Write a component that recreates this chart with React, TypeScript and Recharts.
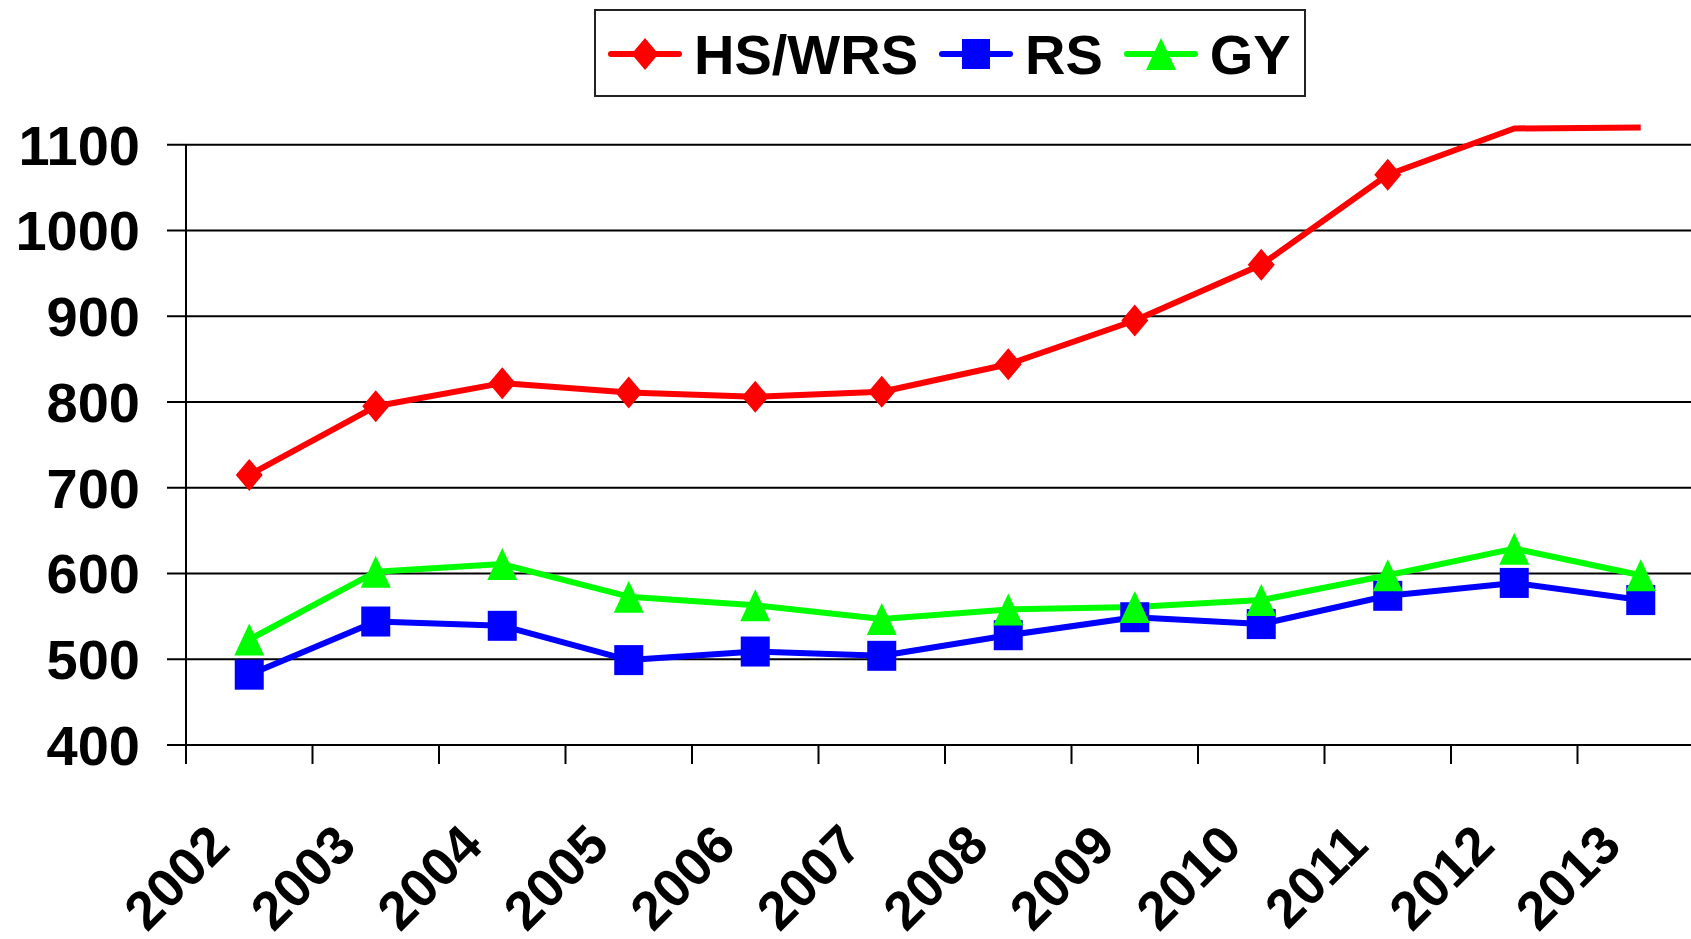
import React from 'react';
import { LineChart, Line, XAxis, YAxis, CartesianGrid, Legend, ReferenceLine } from 'recharts';

const FONT = '"Liberation Sans", Arial, Helvetica, sans-serif';

const years = ['2002', '2003', '2004', '2005', '2006', '2007', '2008', '2009', '2010', '2011', '2012', '2013'];
const hsWrs = [715, 795, 822, 811, 806, 812, 844, 895, 960, 1065, 1119, 1120];
const rs = [482, 544, 539, 499, 509, 504, 528, 549, 541, 574, 589, 569];
const gy = [523, 602, 611, 573, 563, 547, 558, 561, 569, 598, 629, 598];
const yTicks = [400, 500, 600, 700, 800, 900, 1000, 1100];
const xBoundaries = [0, 1, 2, 3, 4, 5, 6, 7, 8, 9, 10, 11, 12];
const seriesOrder = ['hs', 'rs', 'gy'];

const data = years.map((year, i) => ({
  year,
  x: i + 0.5,
  hs: hsWrs[i],
  rs: rs[i],
  gy: gy[i],
}));

const RED = '#ff0000';
const BLUE = '#0000ff';
const GREEN = '#00ff00';

const diamondPath = (cx: number, cy: number) =>
  `M${cx},${cy - 16} L${cx + 13.5},${cy} L${cx},${cy + 16} L${cx - 13.5},${cy} Z`;
const trianglePath = (cx: number, cy: number) =>
  `M${cx},${cy - 16} L${cx + 15},${cy + 16} L${cx - 15},${cy + 16} Z`;

const renderDiamond = (props: any) => {
  const { cx, cy, value, index } = props;
  if (cx == null || cy == null || value > 1100) return <g key={`d-${index}`} />;
  return <path key={`d-${index}`} d={diamondPath(cx, cy)} fill={RED} />;
};
const renderSquare = (props: any) => {
  const { cx, cy, index } = props;
  if (cx == null || cy == null) return <g key={`s-${index}`} />;
  return <rect key={`s-${index}`} x={cx - 14.5} y={cy - 15} width={29} height={30} fill={BLUE} />;
};
const renderTriangle = (props: any) => {
  const { cx, cy, index } = props;
  if (cx == null || cy == null) return <g key={`t-${index}`} />;
  return <path key={`t-${index}`} d={trianglePath(cx, cy)} fill={GREEN} />;
};

const XTick = (props: any) => {
  const { x, y, payload } = props;
  const label = years[payload.value];
  if (label === undefined) return <g />;
  const ax = x + 46;
  return (
    <text
      x={ax}
      y={y}
      transform={`rotate(-45 ${ax} ${y})`}
      textAnchor="end"
      fontSize={54}
      fontWeight={700}
      fontFamily={FONT}
      fill="#000"
    >
      {label}
    </text>
  );
};

const LegendIcon = ({ dataKey, color }: { dataKey: string; color: string }) => {
  let marker: React.ReactNode = null;
  if (dataKey === 'hs') marker = <path d={diamondPath(37, 16)} fill={color} />;
  else if (dataKey === 'rs') marker = <rect x={37 - 14} y={16 - 15} width={28} height={30} fill={color} />;
  else marker = <path d={trianglePath(37, 16)} fill={color} />;
  return (
    <svg width={74} height={34} style={{ display: 'block', overflow: 'visible' }}>
      <line x1={3} y1={16} x2={71} y2={16} stroke={color} strokeWidth={6} strokeLinecap="round" />
      {marker}
    </svg>
  );
};

const LegendBox = (props: any) => {
  const payload = [...(props.payload || [])].sort(
    (a: any, b: any) => seriesOrder.indexOf(a.dataKey) - seriesOrder.indexOf(b.dataKey)
  );
  return (
    <div
      style={{
        boxSizing: 'border-box',
        width: 712,
        height: 88,
        border: '2px solid #222',
        background: '#fff',
        display: 'flex',
        alignItems: 'center',
        paddingLeft: 12,
        paddingTop: 3,
      }}
    >
      {payload.map((entry: any, i: number) => (
        <div
          key={entry.dataKey}
          style={{ display: 'flex', alignItems: 'center', marginLeft: i === 0 ? 0 : 21 }}
        >
          <LegendIcon dataKey={entry.dataKey} color={entry.color} />
          <span
            style={{
              marginLeft: 12,
              fontFamily: FONT,
              fontWeight: 700,
              fontSize: 56,
              lineHeight: 1,
              color: '#000',
              whiteSpace: 'nowrap',
            }}
          >
            {entry.value}
          </span>
        </div>
      ))}
    </div>
  );
};

export default function App() {
  return (
    <div
      style={{
        position: 'absolute',
        left: 0,
        top: 0,
        width: 1691,
        height: 939,
        overflow: 'hidden',
        background: '#fff',
      }}
    >
      <LineChart
        width={1704}
        height={939}
        data={data}
        margin={{ top: 123.3, right: 0, bottom: 4, left: 0 }}
      >
        <CartesianGrid horizontal vertical={false} syncWithTicks stroke="#000" strokeWidth={2} />
        <XAxis
          type="number"
          dataKey="x"
          domain={[0, 12]}
          ticks={xBoundaries}
          interval={0}
          height={190}
          tickSize={19}
          tickMargin={84}
          axisLine={{ stroke: '#000', strokeWidth: 2 }}
          tickLine={{ stroke: '#000', strokeWidth: 2 }}
          tick={<XTick />}
        />
        <YAxis
          type="number"
          domain={[400, 1125]}
          ticks={yTicks}
          interval={0}
          width={186}
          tickSize={19}
          tickMargin={27}
          axisLine={false}
          tickLine={{ stroke: '#000', strokeWidth: 2 }}
          tick={{ fill: '#000', fontSize: 56, fontWeight: 700, fontFamily: FONT }}
        />
        <ReferenceLine
          segment={[
            { x: 0, y: 400 },
            { x: 0, y: 1100 },
          ]}
          stroke="#000"
          strokeWidth={2}
          ifOverflow="visible"
        />
        <Legend
          verticalAlign="middle"
          layout="horizontal"
          itemSorter={null as any}
          content={<LegendBox />}
          wrapperStyle={{ position: 'absolute', left: 594, top: 9, width: 712, height: 88 }}
        />
        <Line
          type="linear"
          dataKey="hs"
          name="HS/WRS"
          stroke={RED}
          strokeWidth={6}
          strokeLinejoin="round"
          dot={renderDiamond}
          activeDot={false}
          isAnimationActive={false}
        />
        <Line
          type="linear"
          dataKey="rs"
          name="RS"
          stroke={BLUE}
          strokeWidth={6}
          strokeLinejoin="round"
          dot={renderSquare}
          activeDot={false}
          isAnimationActive={false}
        />
        <Line
          type="linear"
          dataKey="gy"
          name="GY"
          stroke={GREEN}
          strokeWidth={6}
          strokeLinejoin="round"
          dot={renderTriangle}
          activeDot={false}
          isAnimationActive={false}
        />
      </LineChart>
    </div>
  );
}
